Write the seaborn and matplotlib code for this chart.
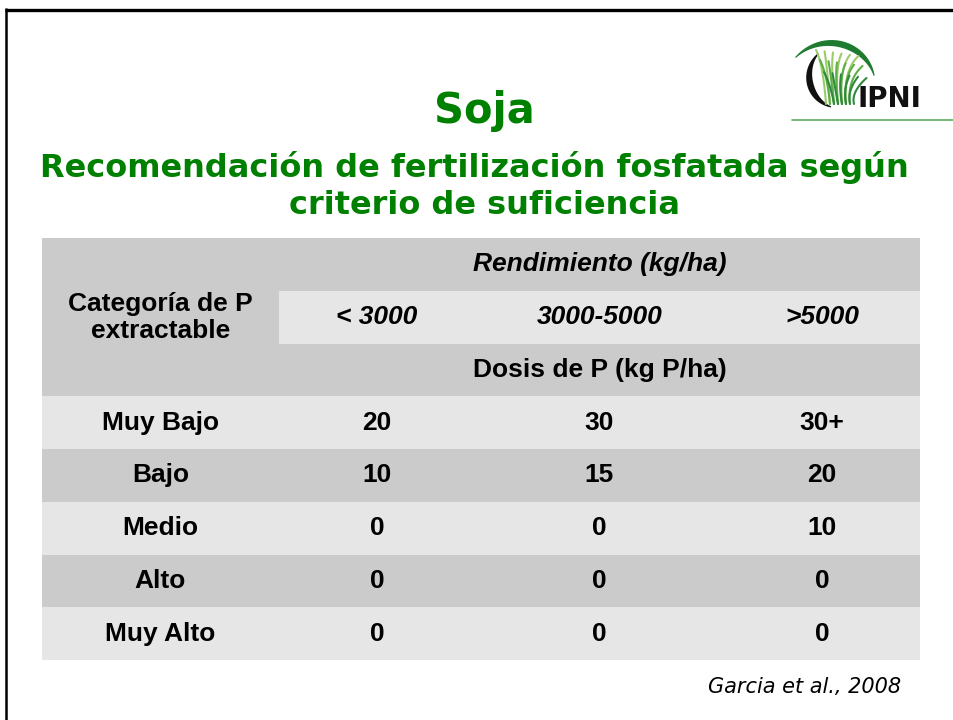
import numpy as np
import matplotlib
matplotlib.use("Agg")
import matplotlib.pyplot as plt
import seaborn as sns
from matplotlib.colors import ListedColormap

# datos de la tabla
categorias = ["Muy Bajo", "Bajo", "Medio", "Alto", "Muy Alto"]
rendimientos = ["< 3000", "3000-5000", ">5000"]
dosis_menos_3000 = ["20", "10", "0", "0", "0"]
dosis_3000_5000 = ["30", "15", "0", "0", "0"]
dosis_mas_5000 = ["30+", "20", "10", "0", "0"]

titulo = "Soja"
subtitulo = ["Recomendación de fertilización fosfatada según",
             "criterio de suficiencia"]
fuente = "Garcia et al., 2008"

GREEN = "#008000"
LIGHT = "#E6E6E6"
DARK = "#CBCBCB"
W, H = 954, 720

sns.set_theme(style="white")
plt.rcParams["font.family"] = ["Liberation Sans", "DejaVu Sans"]

fig = plt.figure(figsize=(W / 100, H / 100), dpi=100)

# fondo en coordenadas de pixel
bg = fig.add_axes([0, 0, 1, 1])
bg.set_xlim(0, W)
bg.set_ylim(H, 0)
bg.axis("off")
bg.plot([5, W], [9.5, 9.5], color="black", lw=2.4, solid_capstyle="butt")
bg.plot([6.2, 6.2], [8, H], color="black", lw=1.8, solid_capstyle="butt")

bg.text(484, 111, titulo, color=GREEN, fontsize=30, fontweight="bold",
        family="DejaVu Sans", ha="center", va="center")
bg.text(474, 167, subtitulo[0], color=GREEN, fontsize=23, fontweight="bold",
        family="DejaVu Sans", ha="center", va="center")
bg.text(485, 206, subtitulo[1], color=GREEN, fontsize=23, fontweight="bold",
        family="DejaVu Sans", ha="center", va="center")
bg.text(805, 687, fuente, fontsize=15, style="italic", family="DejaVu Sans",
        ha="center", va="center", color="black")


# logo IPNI
def media_luna(cx, cy, r0, r1, a0, a1, wmax, color):
    th = np.linspace(a0, a1, 100)
    r = np.linspace(r0, r1, 100)
    w = 1 + wmax * np.sin(np.pi * (th - a0) / (a1 - a0))
    t = np.radians(th)
    ox, oy = cx + r * np.cos(t), cy - r * np.sin(t)
    ix, iy = cx + (r - w) * np.cos(t), cy - (r - w) * np.sin(t)
    bg.fill(np.r_[ox, ix[::-1]], np.r_[oy, iy[::-1]], color=color, lw=0)


media_luna(836, 86, 40, 50, 15, 145, 5.5, "#1E7B30")
media_luna(837, 79, 32, 29, 126, 258, 5.5, "#111111")
t = np.linspace(0, 1, 30)
hojas = [("#9CCB6A", 0, 50), ("#5DAE47", 4, 60), ("#2E8B3E", 8, 72)]
for color, dx, ytip in hojas:
    for k in range(6):
        xb = 826 + k * 4 + dx
        xt = 816 + k * 8.5 + dx
        yt = ytip + k * 1.2
        cx, cy = xb - 3, yt + 14
        bx = (1 - t) ** 2 * xb + 2 * (1 - t) * t * cx + t ** 2 * xt
        by = (1 - t) ** 2 * 104 + 2 * (1 - t) * t * cy + t ** 2 * yt
        bg.plot(bx, by, color=color, lw=1.5)
bg.text(858, 99, "IPNI", fontsize=20, fontweight="bold", family="DejaVu Sans",
        ha="left", va="center", color="#111111")
bg.plot([792, W], [119.5, 119.5], color="#5FAE5F", lw=1.2)

# tabla: filas de encabezado + datos, bandas alternadas
top, bottom, x0, xm, x1 = 238, 660, 42, 279, 920
rect = lambda a, b: [a / W, 1 - bottom / H, (b - a) / W, (bottom - top) / H]
bandas = [i % 2 for i in range(len(categorias))]  # 0 claro, 1 oscuro
banda_izq = np.array([1, 1, 1] + bandas).reshape(-1, 1)
banda_der = np.array([[1] * 3, [0] * 3, [1] * 3] + [[b] * 3 for b in bandas])
cmap = ListedColormap([LIGHT, DARK])

txt = dict(fontsize=19, fontweight="bold", color="black")

ax_l = fig.add_axes(rect(x0, xm))
sns.heatmap(banda_izq, ax=ax_l, cmap=cmap, vmin=0, vmax=1, cbar=False,
            xticklabels=False, yticklabels=False,
            annot=np.array([""] * 3 + categorias).reshape(-1, 1), fmt="",
            annot_kws=txt)
ax_l.text(0.5, 1.5, "Categoría de P\nextractable", ha="center", va="center",
          linespacing=1.15, **txt)

valores = np.array([dosis_menos_3000, dosis_3000_5000, dosis_mas_5000]).T
annot_der = np.vstack([np.full((3, 3), ""), valores])
ax_r = fig.add_axes(rect(xm, x1))
sns.heatmap(banda_der, ax=ax_r, cmap=cmap, vmin=0, vmax=1, cbar=False,
            xticklabels=False, yticklabels=False,
            annot=annot_der, fmt="", annot_kws=txt)
# centros de columna algo desiguales en la diapositiva
desplaz = [-0.041, 0.0, 0.041]
for t in ax_r.texts:
    x, y = t.get_position()
    t.set_x(x + desplaz[int(x)])
ax_r.text(1.5, 0.5, "Rendimiento (kg/ha)", ha="center", va="center",
          style="italic", **txt)
for j, r in enumerate(rendimientos):
    ax_r.text(j + 0.5 + desplaz[j], 1.5, r, ha="center", va="center",
              style="italic", **txt)
ax_r.text(1.5, 2.5, "Dosis de P (kg P/ha)", ha="center", va="center", **txt)

fig.savefig("out.png", dpi=100)
